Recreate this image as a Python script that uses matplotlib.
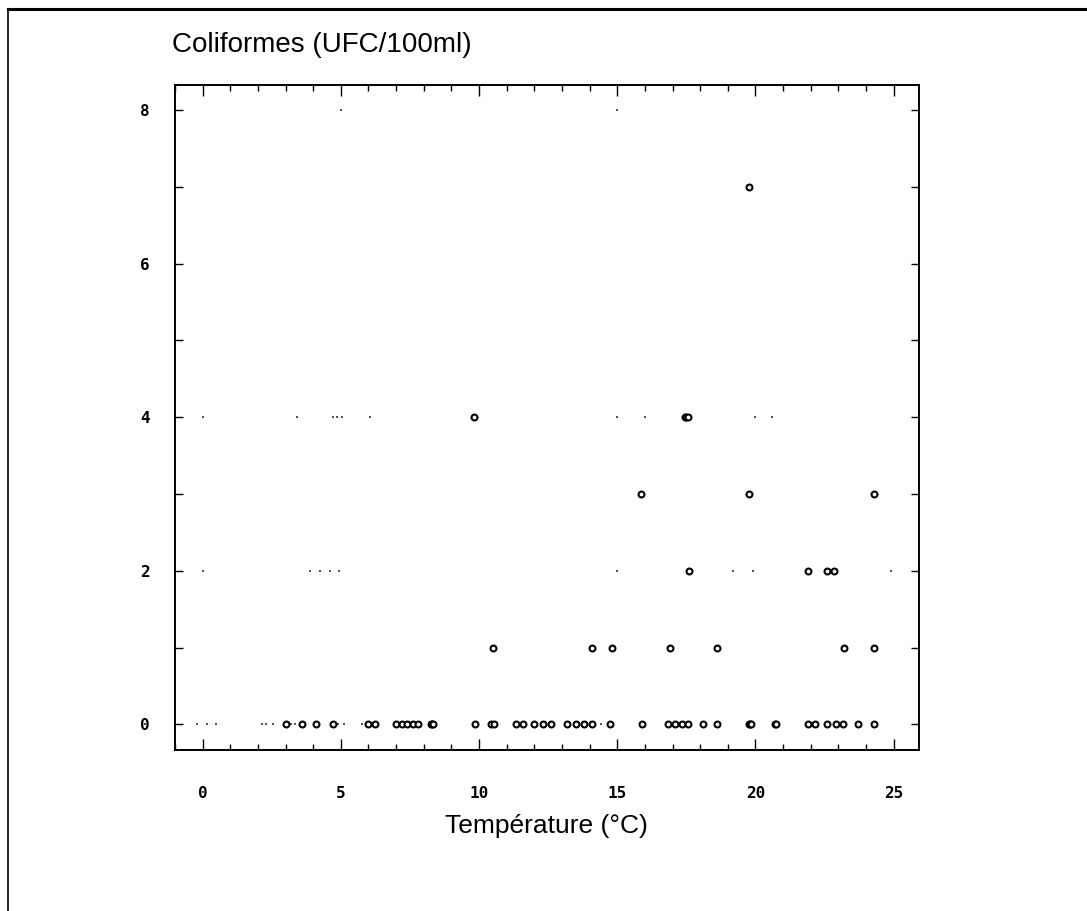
import numpy as np
import matplotlib.pyplot as plt
from matplotlib.ticker import MultipleLocator

# temperature (deg C) and coliform counts
temp_0 = [3.0, 3.6, 4.1, 4.7, 6.0, 6.25, 7.0, 7.2, 7.4, 7.6, 7.8, 8.25, 8.3, 8.35,
          9.85, 10.45, 10.55, 11.35, 11.6, 12.0, 12.3, 12.6, 13.2, 13.5, 13.8, 14.1,
          14.75, 15.9, 16.85, 17.1, 17.35, 17.55, 18.1, 18.6, 19.75, 19.8, 19.85,
          20.7, 20.75, 21.9, 22.15, 22.6, 22.9, 23.15, 23.7, 24.3]
temp_1 = [10.5, 14.1, 14.8, 16.9, 18.6, 23.2, 24.3]
temp_2 = [17.6, 21.9, 22.6, 22.85]
temp_3 = [15.85, 19.75, 24.3]
temp_4 = [9.8, 17.45, 17.5, 17.55]
temp_7 = [19.75]

# faint specks visible on the printout
speck_x = [-0.2, 0.15, 0.5, 2.15, 2.3, 2.55, 3.2, 3.35, 4.9, 5.1, 5.75, 13.1, 14.4,
           0.0, 3.9, 4.25, 4.6, 4.95, 15.0, 19.2, 19.9, 24.9,
           0.0, 3.4, 4.7, 4.85, 5.05, 6.05, 15.0, 16.0, 20.0, 20.6,
           5.0, 15.0]
speck_y = [0] * 13 + [2] * 9 + [4] * 10 + [8] * 2

x_ticks = [0, 5, 10, 15, 20, 25]
y_ticks = [0, 2, 4, 6, 8]

temps = temp_0 + temp_1 + temp_2 + temp_3 + temp_4 + temp_7
colis = ([0] * len(temp_0) + [1] * len(temp_1) + [2] * len(temp_2) +
         [3] * len(temp_3) + [4] * len(temp_4) + [7] * len(temp_7))

fig = plt.figure(figsize=(10.87, 9.11), dpi=100)
ax = fig.add_axes([0.161, 0.177, 0.684, 0.730])

ax.scatter(speck_x, speck_y, s=1.5, color='#555555', marker='s', linewidths=0)
ax.scatter(temps, colis, s=18, facecolors='white', edgecolors='black', linewidths=1.5, zorder=3)

ax.set_xlim(-1.0, 25.9)
ax.set_ylim(-0.33, 8.33)

ax.set_xticks(x_ticks)
ax.set_yticks(y_ticks)
ax.xaxis.set_minor_locator(MultipleLocator(1))
ax.yaxis.set_minor_locator(MultipleLocator(1))
ax.tick_params(axis='both', which='both', direction='in', top=True, right=True, width=1.0, color='black')
ax.tick_params(axis='x', which='major', length=8, pad=26)
ax.tick_params(axis='x', which='minor', length=4)
ax.tick_params(axis='y', which='both', length=6, pad=18)
for lbl in ax.get_xticklabels() + ax.get_yticklabels():
    lbl.set_family('DejaVu Sans Mono')
    lbl.set_fontweight('bold')
    lbl.set_fontsize(11.5)
for s in ax.spines.values():
    s.set_linewidth(1.4)

fig.text(172 / 1087, 1 - 45 / 911, 'Coliformes (UFC/100ml)', family='Liberation Sans',
         fontsize=20, ha='left', va='center')
fig.text(546 / 1087, 1 - 826 / 911, 'Température (°C)', family='Liberation Sans',
         fontsize=19, ha='center', va='center')

# outer page frame of the scan
fig.add_artist(plt.Line2D([8 / 1087, 1.0], [1 - 9 / 911, 1 - 9 / 911], color='black', lw=2.2))
fig.add_artist(plt.Line2D([8 / 1087, 8 / 1087], [0.0, 1 - 9 / 911], color='black', lw=1.2))

fig.savefig('out.png', dpi=100)
